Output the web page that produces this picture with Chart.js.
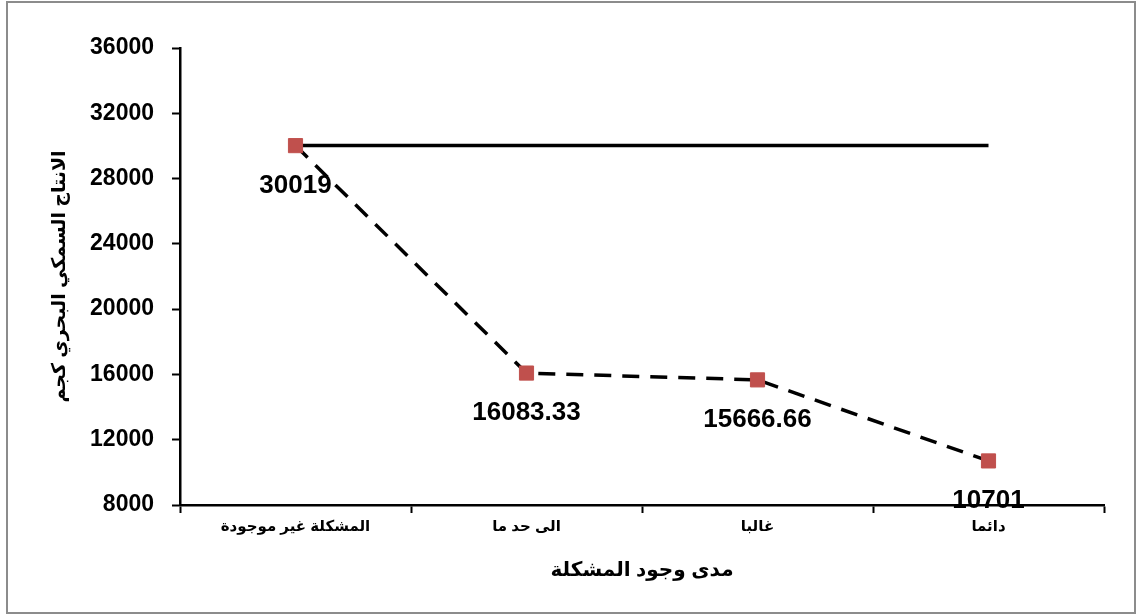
<!DOCTYPE html>
<html lang="ar">
<head>
<meta charset="utf-8">
<title>الانتاج السمكي البحري</title>
<script src="https://cdn.jsdelivr.net/npm/chart.js@4.4.1/dist/chart.umd.min.js"></script>
<style>
    html, body { margin: 0; padding: 0; background: #ffffff; }
    #wrap { width: 1142px; height: 616px; }
</style>
</head>
<body>
<div id="wrap"><canvas id="fishChart" width="1142" height="616"></canvas></div>
<script>
// categories on the x axis (how often the problem occurs)
const categories = ['المشكلة غير موجودة', 'الى حد ما', 'غالبا', 'دائما'];
// sea fish production (kg) for each category
const production = [30019, 16083.33, 15666.66, 10701];
// reference level: production when the problem does not exist
const referenceLevel = [30019, 30019, 30019, 30019];
// y axis range
const yMin = 8000;
const yMax = 36000;
const yStep = 4000;

const FONT = "'Liberation Sans', 'DejaVu Sans', sans-serif";

// outer frame around the whole chart
const framePlugin = {
    id: 'frame',
    beforeDraw(chart) {
        const ctx = chart.ctx;
        ctx.save();
        ctx.fillStyle = '#ffffff';
        ctx.fillRect(0, 0, chart.width, chart.height);
        ctx.strokeStyle = '#8c8c8c';
        ctx.lineWidth = 2;
        ctx.strokeRect(7, 2, 1128, 611);
        ctx.restore();
    }
};

// value labels under each marker of the production line
const valueLabels = {
    id: 'valueLabels',
    afterDatasetsDraw(chart) {
        const ctx = chart.ctx;
        const meta = chart.getDatasetMeta(1);
        ctx.save();
        ctx.font = 'bold 26px ' + FONT;
        ctx.fillStyle = '#000000';
        ctx.textAlign = 'center';
        ctx.textBaseline = 'middle';
        meta.data.forEach((pt, i) => {
            ctx.fillText(String(production[i]), pt.x, pt.y + 40);
        });
        ctx.restore();
    }
};

const ctx = document.getElementById('fishChart');
new Chart(ctx, {
    type: 'line',
    data: {
        labels: categories,
        datasets: [
            {
                label: 'reference',
                data: referenceLevel,
                borderColor: '#000000',
                borderWidth: 3.5,
                pointRadius: 0,
                fill: false,
                tension: 0,
                order: 1
            },
            {
                label: 'production',
                data: production,
                borderColor: '#000000',
                borderWidth: 3.5,
                borderDash: [17, 11],
                pointStyle: 'rect',
                pointRadius: 10,
                pointBackgroundColor: '#c0504d',
                pointBorderColor: '#c0504d',
                pointBorderWidth: 1,
                fill: false,
                tension: 0,
                order: 0
            }
        ]
    },
    options: {
        responsive: false,
        animation: false,
        layout: {
            padding: { left: 22, right: 38, top: 48, bottom: 8 }
        },
        plugins: {
            legend: { display: false },
            tooltip: { enabled: false }
        },
        scales: {
            x: {
                type: 'category',
                offset: true,
                afterFit: scale => { scale.height = 103; },
                grid: {
                    offset: true,
                    drawOnChartArea: false,
                    drawTicks: true,
                    tickLength: 8,
                    tickWidth: 2,
                    tickColor: '#000000'
                },
                border: { display: true, color: '#000000', width: 2.5 },
                ticks: {
                    color: '#000000',
                    padding: 5,
                    maxRotation: 0,
                    font: { family: FONT, size: 15, weight: 'bold' }
                },
                title: {
                    display: true,
                    text: 'مدى وجود المشكلة',
                    color: '#000000',
                    padding: { top: 0, bottom: 26 },
                    font: { family: FONT, size: 20, weight: 'bold' }
                }
            },
            y: {
                min: yMin,
                max: yMax,
                afterFit: scale => { scale.width = 158; },
                grid: {
                    drawOnChartArea: false,
                    drawTicks: true,
                    tickLength: 8,
                    tickWidth: 2,
                    tickColor: '#000000'
                },
                border: { display: true, color: '#000000', width: 2.5 },
                ticks: {
                    stepSize: yStep,
                    color: '#000000',
                    padding: 18,
                    font: { family: FONT, size: 23, weight: 'bold' },
                    callback: value => String(value)
                },
                title: {
                    display: true,
                    text: 'الانتاج السمكي البحري كجم',
                    color: '#000000',
                    padding: { top: 26, bottom: 0 },
                    font: { family: FONT, size: 19, weight: 'bold' }
                }
            }
        }
    },
    plugins: [framePlugin, valueLabels]
});
</script>
</body>
</html>
